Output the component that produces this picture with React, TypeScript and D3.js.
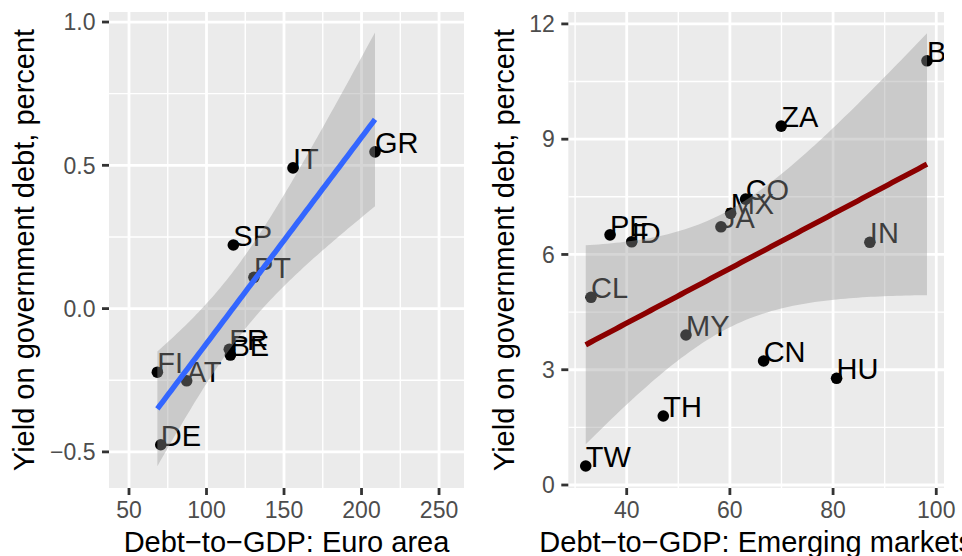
import React from "react";
import * as d3 from "d3";

// ---------- Data ----------
const euroCodes = ["IT", "GR", "SP", "PT", "FR", "BE", "FI", "AT", "DE"];
const euroDebt = [155.8, 208.7, 117.3, 130.6, 114.7, 115.4, 68.3, 87.2, 70.5];
const euroYield = [0.491, 0.547, 0.222, 0.109, -0.142, -0.162, -0.222, -0.252, -0.475];

const emCodes = ["BR", "ZA", "CO", "MX", "JA", "PE", "ID", "CL", "MY", "CN", "HU", "TH", "TW", "IN"];
const emDebt = [98.2, 69.95, 63.05, 60.15, 58.27, 36.77, 40.97, 33.08, 51.49, 66.54, 80.68, 47.09, 32.06, 87.13];
const emYield = [11.04, 9.34, 7.44, 7.07, 6.72, 6.51, 6.33, 4.885, 3.904, 3.227, 2.777, 1.796, 0.495, 6.317];

const euroXTicks = [50, 100, 150, 200, 250];
const euroXMinor = [75, 125, 175, 225];
const euroYTicks = [-0.5, 0, 0.5, 1.0];
const euroYMinor = [-0.25, 0.25, 0.75];
const euroYLabels = ["\u22120.5", "0.0", "0.5", "1.0"];

const emXTicks = [40, 60, 80, 100];
const emXMinor = [30, 50, 70, 90];
const emYTicks = [0, 3, 6, 9, 12];
const emYMinor = [1.5, 4.5, 7.5, 10.5];
const emYLabels = ["0", "3", "6", "9", "12"];

const euroXDomain = [37.1, 266.1];
const euroYDomain = [-0.626, 1.035];
const emXDomain = [28.68, 101.5];
const emYDomain = [-0.078, 12.31];

// ---------- Stats helpers ----------
function lgamma(z: number): number {
  const g = 7;
  const c = [
    0.99999999999980993, 676.5203681218851, -1259.1392167224028, 771.32342877765313,
    -176.61502916214059, 12.507343278686905, -0.13857109526572012, 9.9843695780195716e-6,
    1.5056327351493116e-7,
  ];
  if (z < 0.5) return Math.log(Math.PI / Math.sin(Math.PI * z)) - lgamma(1 - z);
  z -= 1;
  let x = c[0];
  for (let i = 1; i < g + 2; i++) x += c[i] / (z + i);
  const t = z + g + 0.5;
  return 0.5 * Math.log(2 * Math.PI) + (z + 0.5) * Math.log(t) - t + Math.log(x);
}
function tpdf(x: number, df: number) {
  return (
    Math.exp(lgamma((df + 1) / 2) - lgamma(df / 2)) / Math.sqrt(df * Math.PI) *
    Math.pow(1 + (x * x) / df, -(df + 1) / 2)
  );
}
function tcdf(x: number, df: number) {
  const n = 400;
  const h = x / n;
  let s = tpdf(0, df) + tpdf(x, df);
  for (let i = 1; i < n; i++) s += (i % 2 ? 4 : 2) * tpdf(i * h, df);
  return 0.5 + (s * h) / 3;
}
function tQuantile(p: number, df: number) {
  let lo = 0, hi = 50;
  for (let i = 0; i < 60; i++) {
    const mid = (lo + hi) / 2;
    if (tcdf(mid, df) < p) lo = mid; else hi = mid;
  }
  return (lo + hi) / 2;
}
function smooth(xs: number[], ys: number[], n = 80) {
  const N = xs.length;
  const mx = d3.mean(xs) as number;
  const my = d3.mean(ys) as number;
  let sxx = 0, sxy = 0;
  xs.forEach((x, i) => { sxx += (x - mx) ** 2; sxy += (x - mx) * (ys[i] - my); });
  const b = sxy / sxx;
  const a = my - b * mx;
  let sse = 0;
  xs.forEach((x, i) => { sse += (ys[i] - (a + b * x)) ** 2; });
  const s = Math.sqrt(sse / (N - 2));
  const t = tQuantile(0.975, N - 2);
  const [x0, x1] = d3.extent(xs) as [number, number];
  return d3.range(n).map((i) => {
    const x = x0 + ((x1 - x0) * i) / (n - 1);
    const fit = a + b * x;
    const se = s * Math.sqrt(1 / N + (x - mx) ** 2 / sxx);
    return { x, fit, lo: fit - t * se, hi: fit + t * se };
  });
}

// ---------- Styling ----------
const FONT = "'Liberation Sans', Arial, Helvetica, sans-serif";
const TICK_FS = 23;
const TITLE_FS = 29;
const LABEL_FS = 29;

type PanelProps = {
  id: string;
  codes: string[]; xs: number[]; ys: number[];
  xDomain: number[]; yDomain: number[];
  left: number; right: number; top: number; bottom: number;
  xTicks: number[]; xMinor: number[]; yTicks: number[]; yMinor: number[]; yLabels: string[];
  lineColor: string; xTitle: string; yTitle: string; yTitleX: number;
};

function Panel(p: PanelProps) {
  const x = d3.scaleLinear().domain(p.xDomain).range([p.left, p.right]);
  const y = d3.scaleLinear().domain(p.yDomain).range([p.bottom, p.top]);
  const sm = smooth(p.xs, p.ys);
  const area = d3.area<any>().x((d) => x(d.x)).y0((d) => y(d.lo)).y1((d) => y(d.hi));
  const line = d3.line<any>().x((d) => x(d.x)).y((d) => y(d.fit));
  const tickLen = 7;
  const cx = (p.left + p.right) / 2;
  const cy = (p.top + p.bottom) / 2;
  return (
    <g>
      <defs>
        <clipPath id={p.id}>
          <rect x={p.left} y={p.top} width={p.right - p.left} height={p.bottom - p.top} />
        </clipPath>
      </defs>
      <rect x={p.left} y={p.top} width={p.right - p.left} height={p.bottom - p.top} fill="#EBEBEB" />
      <g clipPath={`url(#${p.id})`}>
        {p.xMinor.map((v) => (
          <line key={"xm" + v} x1={x(v)} x2={x(v)} y1={p.top} y2={p.bottom} stroke="#fff" strokeWidth={1.4} />
        ))}
        {p.yMinor.map((v) => (
          <line key={"ym" + v} y1={y(v)} y2={y(v)} x1={p.left} x2={p.right} stroke="#fff" strokeWidth={1.4} />
        ))}
        {p.xTicks.map((v) => (
          <line key={"xg" + v} x1={x(v)} x2={x(v)} y1={p.top} y2={p.bottom} stroke="#fff" strokeWidth={2.8} />
        ))}
        {p.yTicks.map((v) => (
          <line key={"yg" + v} y1={y(v)} y2={y(v)} x1={p.left} x2={p.right} stroke="#fff" strokeWidth={2.8} />
        ))}
        {p.xs.map((v, i) => (
          <circle key={"pt" + i} cx={x(v)} cy={y(p.ys[i])} r={5.8} fill="#000" />
        ))}
        {p.xs.map((v, i) => (
          <text key={"lb" + i} x={x(v)} y={y(p.ys[i]) + 1} fontSize={LABEL_FS} fontFamily={FONT} fill="#000">
            {p.codes[i]}
          </text>
        ))}
        <path d={area(sm) as string} fill="#999999" fillOpacity={0.4} stroke="none" />
        <path d={line(sm) as string} fill="none" stroke={p.lineColor} strokeWidth={5.4} />
      </g>
      {p.xTicks.map((v) => (
        <g key={"xt" + v}>
          <line x1={x(v)} x2={x(v)} y1={p.bottom} y2={p.bottom + tickLen} stroke="#333" strokeWidth={2.8} />
          <text x={x(v)} y={p.bottom + 30} textAnchor="middle" fontSize={TICK_FS} fontFamily={FONT} fill="#4D4D4D">
            {v}
          </text>
        </g>
      ))}
      {p.yTicks.map((v, i) => (
        <g key={"yt" + v}>
          <line x1={p.left - tickLen} x2={p.left} y1={y(v)} y2={y(v)} stroke="#333" strokeWidth={2.8} />
          <text x={p.left - 13.5} y={y(v) + 8.2} textAnchor="end" fontSize={TICK_FS} fontFamily={FONT} fill="#4D4D4D">
            {p.yLabels[i]}
          </text>
        </g>
      ))}
      <text x={cx} y={551.5} textAnchor="middle" fontSize={TITLE_FS} fontFamily={FONT} fill="#000">
        {p.xTitle}
      </text>
      <text
        transform={`translate(${p.yTitleX},${cy}) rotate(-90)`}
        textAnchor="middle"
        fontSize={TITLE_FS}
        fontFamily={FONT}
        fill="#000"
      >
        {p.yTitle}
      </text>
    </g>
  );
}

export default function App() {
  return (
    <svg
      width={962}
      height={556}
      viewBox="0 0 962 556"
      style={{ position: "absolute", left: 0, top: 0, background: "#fff", display: "block" }}
    >
      <rect x={0} y={0} width={962} height={556} fill="#fff" />
      <Panel
        id="clipEuro"
        codes={euroCodes} xs={euroDebt} ys={euroYield}
        xDomain={euroXDomain} yDomain={euroYDomain}
        left={109} right={464} top={12} bottom={488}
        xTicks={euroXTicks} xMinor={euroXMinor} yTicks={euroYTicks} yMinor={euroYMinor} yLabels={euroYLabels}
        lineColor="#3366FF"
        xTitle={"Debt\u2212to\u2212GDP: Euro area"}
        yTitle="Yield on government debt, percent"
        yTitleX={34}
      />
      <Panel
        id="clipEm"
        codes={emCodes} xs={emDebt} ys={emYield}
        xDomain={emXDomain} yDomain={emYDomain}
        left={568.3} right={944} top={12} bottom={488}
        xTicks={emXTicks} xMinor={emXMinor} yTicks={emYTicks} yMinor={emYMinor} yLabels={emYLabels}
        lineColor="#8B0000"
        xTitle={"Debt\u2212to\u2212GDP: Emerging markets"}
        yTitle="Yield on government debt, percent"
        yTitleX={514}
      />
    </svg>
  );
}
